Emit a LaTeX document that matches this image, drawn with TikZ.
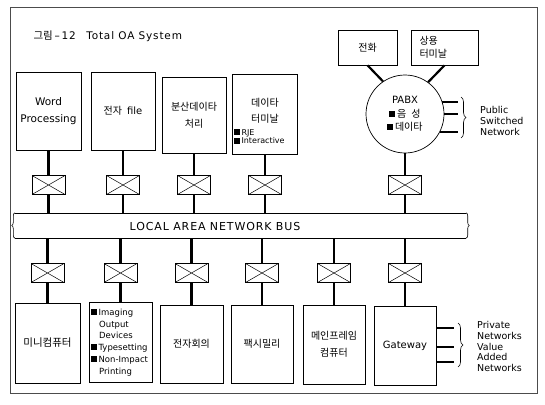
\documentclass[tikz,border=0pt]{standalone}
\usepackage{fontspec}
\setmainfont{DejaVu Sans}
\newfontfamily\kr{Noto Sans CJK KR}
\usetikzlibrary{decorations.pathreplacing}
\newcommand{\sqb}{\rule[0.3pt]{6pt}{6pt}\,}
\tikzset{
  unit/.style={draw,line width=0.6pt,minimum width=64pt,minimum height=79pt,
    inner sep=1pt,align=center,font=\fontsize{10}{17}\selectfont},
  xbox/.style={draw,line width=0.7pt,minimum width=33pt,minimum height=19pt,inner sep=0pt,
    path picture={\draw[line width=0.5pt] (path picture bounding box.south west)--(path picture bounding box.north east)
      (path picture bounding box.north west)--(path picture bounding box.south east);}},
  link/.style={line width=2.2pt},
  brc/.style={decorate,decoration={brace,amplitude=#1},line width=0.6pt},
  brc/.default=5pt,
  note/.style={align=left,inner sep=0pt,font=\fontsize{9.5}{11.3}\selectfont}
}
\begin{document}
\begin{tikzpicture}[x=1pt,y=-1pt]
\useasboundingbox (0,0) rectangle (545,404);
\draw[line width=0.5pt,black!70] (10,7) rectangle (537,393);
\node[anchor=west,font=\fontsize{10.5}{12}\selectfont\addfontfeature{LetterSpace=8}] (title) at (30,36) {{\kr 그림}\,--\,12\quad Total OA System};
% upper row
\node[unit,minimum width=65pt,minimum height=78pt,font=\fontsize{10.5}{17}\selectfont] (wp) at (48.5,111) {Word\\Processing};
\node[unit,minimum height=78pt] (ef) at (123,111) {{\kr 전자}\enspace file};
\node[unit,minimum height=76pt] (dd) at (194,115) {{\kr 분산데이타}\\{\kr 처리}};
\node[unit,minimum width=65pt,minimum height=80pt] (dt) at (265,114) {};
\node[font=\fontsize{10}{16}\selectfont,align=center] (dtname) at (265,111) {{\kr 데이타}\\{\kr 터미날}};
\node[anchor=west,align=left,inner sep=0pt,font=\fontsize{8}{8.8}\selectfont] (dtopt) at (234,136.5) {\sqb RJE\\\sqb Interactive};
\node[draw,line width=0.6pt,minimum width=59pt,minimum height=35pt,font=\fontsize{10}{12}\selectfont] (tel) at (367.5,47.5) {\kr 전화};
\node[draw,line width=0.6pt,minimum width=67pt,minimum height=35pt,text width=50pt,align=left,font=\fontsize{10}{13}\selectfont] (term) at (444.5,47.5) {\kr 상용\\\kr 터미날};
\node[draw,circle,line width=0.7pt,minimum size=78pt,inner sep=0pt,align=center,font=\fontsize{10}{13.5}\selectfont] (pabx) at (405,114)
  {PABX\\\sqb{\kr 음\enspace 성}\\\sqb{\kr 데이타}};
\draw[link] (tel.south) -- (pabx.124);
\draw[link] (term.south) -- (pabx.54);
\coordinate (pend) at (458,115);
\foreach \a in {18,0,-27} \draw[link] (pabx.\a) -- (pabx.\a -| pend);
\draw[brc] (461,97) -- (461,138);
\node[note,anchor=west] (pub) at (480,121) {Public\\Switched\\Network};
% bus
\node[minimum width=451pt,minimum height=25pt,inner sep=0pt] (bus) at (240.5,225.5) {};
\draw[line width=0.6pt] (bus.north west) -- (bus.north east) (bus.south west) -- (bus.south east);
\draw[brc=3pt] (bus.north east) -- (bus.south east);
\draw[brc=3pt] (bus.south west) -- (bus.north west);
\node[font=\fontsize{11}{13}\selectfont\addfontfeature{LetterSpace=8}] (bustxt) at (215,226) {LOCAL AREA NETWORK BUS};
\foreach \n in {wp,ef,dd,dt,pabx}{
  \node[xbox] (x\n) at (\n.south |- 0,185) {};
  \draw[link] (\n.south) -- (x\n.north);
  \draw[link] (x\n.south) -- (x\n.south |- bus.north);
}
% lower row
\node[unit,minimum width=65pt,minimum height=80pt,font=\fontsize{10.5}{12}\selectfont\addfontfeature{LetterSpace=6}] (mc) at (47.5,343) {\kr 미니컴퓨터};
\node[unit,minimum width=63pt,minimum height=80pt] (img) at (120.5,342) {};
\node[anchor=west,align=left,inner sep=0pt,font=\fontsize{8.5}{11.8}\selectfont] (imgtxt) at (91,342.5)
  {\sqb Imaging\\\hspace{8pt}Output\\\hspace{8pt}Devices\\\sqb Typesetting\\\sqb Non-Impact\\\hspace{8pt}Printing};
\node[unit,minimum width=63pt,minimum height=78pt] (conf) at (191.5,344) {\kr 전자회의};
\node[unit,minimum width=62pt,minimum height=78pt] (fax) at (262,344) {\kr 팩시밀리};
\node[unit,minimum width=62pt,minimum height=79pt] (main) at (334,344.5) {{\kr 메인프레임}\\{\kr 컴퓨터}};
\node[unit,minimum width=62pt,minimum height=79pt] (gw) at (405,345.5) {Gateway};
\foreach \n in {mc,img,conf,fax,main,gw}{
  \node[xbox] (y\n) at (\n.north |- 0,273) {};
  \draw[link] (y\n.north |- bus.south) -- (y\n.north);
  \draw[link] (y\n.south) -- (\n.north);
}
\coordinate (gend) at (454,345);
\foreach \yy in {328,347,362} \draw[link] (gw.east |- 0,\yy) -- (gend |- 0,\yy);
\draw[brc] (458,323) -- (458,367);
\node[note,anchor=west,font=\fontsize{9.5}{10.7}\selectfont] (priv) at (477,346.5) {Private\\Networks\\Value\\Added\\Networks};
\end{tikzpicture}
\end{document}
